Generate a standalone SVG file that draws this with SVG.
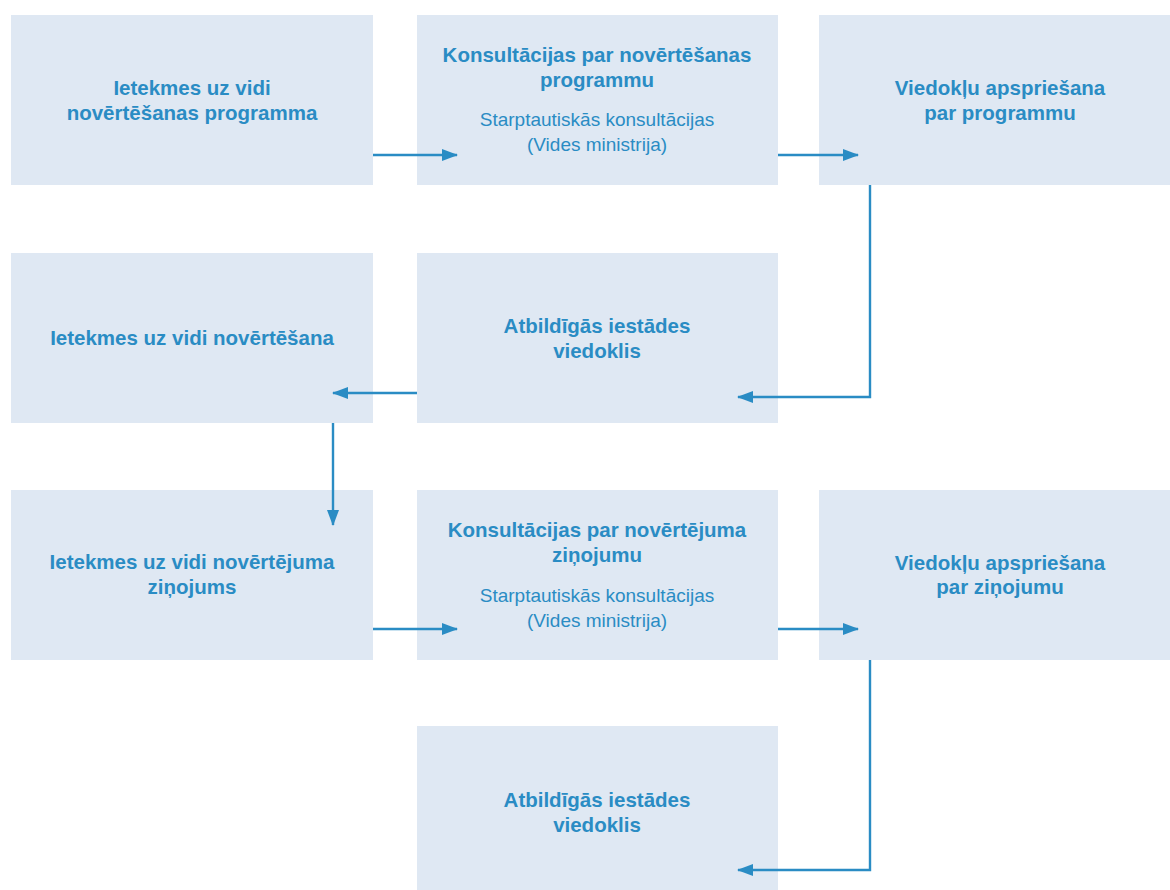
<svg xmlns="http://www.w3.org/2000/svg" width="1170" height="890" viewBox="0 0 1170 890">
  <style>
    .box { fill: #dfe8f3; }
    .t { font-family: "Liberation Sans", Arial, sans-serif; fill: #2a8cc4; text-anchor: middle; }
    .b { font-weight: bold; font-size: 20.5px; }
    .r { font-size: 19px; }
    .c { stroke: #2a8cc4; stroke-width: 2.4; fill: none; marker-end: url(#ah); }
  </style>
  <defs>
    <marker id="ah" markerWidth="16" markerHeight="12" refX="15" refY="6" orient="auto" markerUnits="userSpaceOnUse">
      <path d="M0,0 L16,6 L0,12 Z" fill="#2a8cc4"/>
    </marker>
  </defs>
  <rect width="1170" height="890" fill="#ffffff"/>

  <g id="n1">
    <rect class="box" x="11" y="15" width="362" height="170"/>
    <text class="t b" x="192" y="95">Ietekmes uz vidi</text>
    <text class="t b" x="192" y="120">novērtēšanas programma</text>
  </g>
  <g id="n2">
    <rect class="box" x="417" y="15" width="361" height="170"/>
    <text class="t b" x="597" y="62">Konsultācijas par novērtēšanas</text>
    <text class="t b" x="597" y="87">programmu</text>
    <text class="t r" x="597" y="126">Starptautiskās konsultācijas</text>
    <text class="t r" x="597" y="151">(Vides ministrija)</text>
  </g>
  <g id="n3">
    <rect class="box" x="819" y="15" width="351" height="170"/>
    <text class="t b" x="1000" y="95">Viedokļu apspriešana</text>
    <text class="t b" x="1000" y="120">par programmu</text>
  </g>
  <g id="n4">
    <rect class="box" x="11" y="253" width="362" height="170"/>
    <text class="t b" x="192" y="345">Ietekmes uz vidi novērtēšana</text>
  </g>
  <g id="n5">
    <rect class="box" x="417" y="253" width="361" height="170"/>
    <text class="t b" x="597" y="333">Atbildīgās iestādes</text>
    <text class="t b" x="597" y="358">viedoklis</text>
  </g>
  <g id="n6">
    <rect class="box" x="11" y="490" width="362" height="170"/>
    <text class="t b" x="192" y="569">Ietekmes uz vidi novērtējuma</text>
    <text class="t b" x="192" y="594">ziņojums</text>
  </g>
  <g id="n7">
    <rect class="box" x="417" y="490" width="361" height="170"/>
    <text class="t b" x="597" y="537">Konsultācijas par novērtējuma</text>
    <text class="t b" x="597" y="562">ziņojumu</text>
    <text class="t r" x="597" y="602">Starptautiskās konsultācijas</text>
    <text class="t r" x="597" y="627">(Vides ministrija)</text>
  </g>
  <g id="n8">
    <rect class="box" x="819" y="490" width="351" height="170"/>
    <text class="t b" x="1000" y="570">Viedokļu apspriešana</text>
    <text class="t b" x="1000" y="594">par ziņojumu</text>
  </g>
  <g id="n9">
    <rect class="box" x="417" y="726" width="361" height="170"/>
    <text class="t b" x="597" y="807">Atbildīgās iestādes</text>
    <text class="t b" x="597" y="832">viedoklis</text>
  </g>

  <g id="connectors">
    <path class="c" d="M373,155 H457"/>
    <path class="c" d="M778,155 H858"/>
    <path class="c" d="M870,185 V397 H738"/>
    <path class="c" d="M417,393 H333"/>
    <path class="c" d="M333,423 V525"/>
    <path class="c" d="M373,629 H457"/>
    <path class="c" d="M778,629 H858"/>
    <path class="c" d="M870,660 V870 H738"/>
  </g>
</svg>
